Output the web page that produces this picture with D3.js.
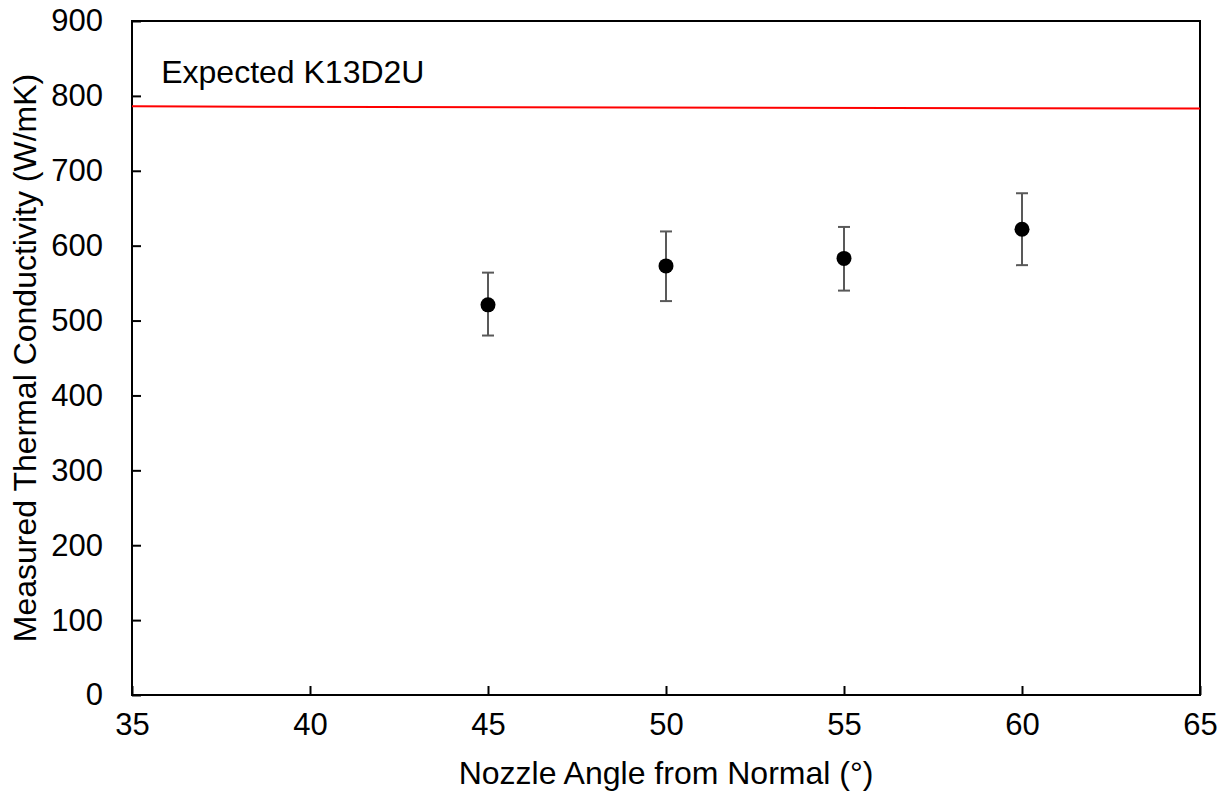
<!DOCTYPE html>
<html>
<head>
<meta charset="utf-8">
<script src="https://cdn.jsdelivr.net/npm/d3@7"></script>
<style>
  body { margin: 0; background: #fff; }
  svg text { font-family: "Liberation Sans", Arial, sans-serif; fill: #000; }
</style>
</head>
<body>
<div id="chart"></div>
<script>
// data
const angles = [45, 50, 55, 60];
const conductivity = [521, 573, 583, 622];
const errLow = [480, 526, 540, 574];
const errHigh = [564, 619, 625, 670];
const expectedX = [35, 65];
const expectedK = [786, 783];
const expectedLabel = "Expected K13D2U";
const xTicks = [35, 40, 45, 50, 55, 60, 65];
const yTicks = [0, 100, 200, 300, 400, 500, 600, 700, 800, 900];

const width = 1228, height = 795;
const margin = { top: 21, right: 28, bottom: 100, left: 132 };
const innerW = width - margin.left - margin.right;
const innerH = height - margin.top - margin.bottom;

const svg = d3.select("#chart").append("svg")
    .attr("width", width)
    .attr("height", height);

const g = svg.append("g")
    .attr("transform", `translate(${margin.left},${margin.top})`);

const x = d3.scaleLinear().domain([35, 65]).range([0, innerW]);
const y = d3.scaleLinear().domain([0, 900]).range([innerH, 0]);

// frame
g.append("rect")
    .attr("width", innerW)
    .attr("height", innerH)
    .attr("fill", "none")
    .attr("stroke", "#000")
    .attr("stroke-width", 2);

// axes, ticks pointing inward
const xAxis = g.append("g")
    .attr("transform", `translate(0,${innerH})`)
    .call(d3.axisBottom(x).tickValues(xTicks).tickSizeInner(-9).tickSizeOuter(0).tickPadding(20));
const yAxis = g.append("g")
    .call(d3.axisLeft(y).tickValues(yTicks).tickSizeInner(-9).tickSizeOuter(0).tickPadding(29));

[xAxis, yAxis].forEach(a => {
    a.select(".domain").remove();
    a.selectAll("line").attr("stroke", "#000").attr("stroke-width", 2);
    a.selectAll("text").style("font-size", "31px").attr("fill", "#000");
});
xAxis.selectAll("text").attr("dy", "0.72em").attr("y", 18);

// expected line
const line = d3.line().x((d, i) => x(expectedX[i])).y(d => y(d));
g.append("path")
    .datum(expectedK)
    .attr("d", line)
    .attr("fill", "none")
    .attr("stroke", "#ff0000")
    .attr("stroke-width", 2);

g.append("text")
    .attr("x", x(35.82))
    .attr("y", y(817))
    .style("font-size", "32px")
    .text(expectedLabel);

// error bars
const capW = 6;
angles.forEach((a, i) => {
    const cx = x(a);
    g.append("line")
        .attr("x1", cx).attr("x2", cx)
        .attr("y1", y(errLow[i])).attr("y2", y(errHigh[i]))
        .attr("stroke", "#595959").attr("stroke-width", 2);
    [errLow[i], errHigh[i]].forEach(v => {
        g.append("line")
            .attr("x1", cx - capW).attr("x2", cx + capW)
            .attr("y1", y(v)).attr("y2", y(v))
            .attr("stroke", "#595959").attr("stroke-width", 2);
    });
});

// points
g.selectAll("circle")
    .data(angles)
    .join("circle")
    .attr("cx", d => x(d))
    .attr("cy", (d, i) => y(conductivity[i]))
    .attr("r", 7.5)
    .attr("fill", "#000");

// axis titles
svg.append("text")
    .attr("x", margin.left + innerW / 2)
    .attr("y", 784)
    .attr("text-anchor", "middle")
    .style("font-size", "32px")
    .text("Nozzle Angle from Normal (°)");

svg.append("text")
    .attr("transform", `translate(36,${margin.top + innerH / 2}) rotate(-90)`)
    .attr("text-anchor", "middle")
    .style("font-size", "32px")
    .text("Measured Thermal Conductivity (W/mK)");
</script>
</body>
</html>
